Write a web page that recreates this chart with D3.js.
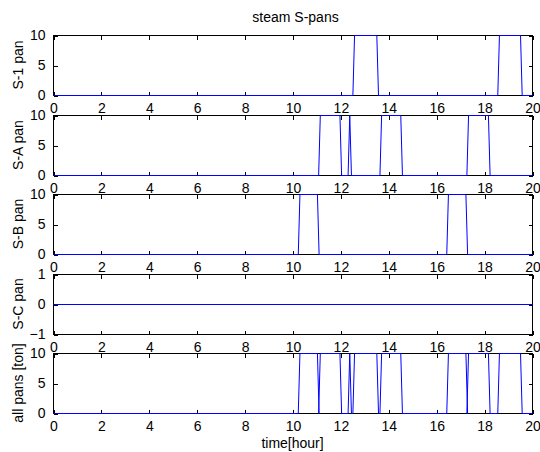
<!DOCTYPE html>
<html>
<head>
<meta charset="utf-8">
<script src="https://cdn.jsdelivr.net/npm/d3@7"></script>
<style>
    body { margin: 0; background: #fff; }
    svg { display: block; font-family: "Liberation Sans", Arial, sans-serif; }
</style>
</head>
<body>
<svg id="chart" width="540" height="452"></svg>
<script>
    // time range and tick labels (hours)
    var hourRange = [0, 20];
    var hourTicks = [0, 2, 4, 6, 8, 10, 12, 14, 16, 18, 20];
    var panLabels = ["S-1 pan", "S-A pan", "S-B pan", "S-C pan", "all pans  [ton]"];
    // switching times (pan fills 10 ton while on)
    var s1On = [12.5, 18.55], s1Off = [13.5, 19.5];
    var saOn = [11.07, 12.3, 13.63, 17.26], saOff = [11.96, 12.37, 14.5, 18.16];
    var sbOn = [10.22, 16.42], sbOff = [11.02, 17.22];
    var scOn = [], scOff = [];
    var panLoad = 10;
    var rampTime = 0.07;
    var yDomains = [[0, 10], [0, 10], [0, 10], [-1, 1], [0, 10]];
    var yTicks = [[0, 5, 10], [0, 5, 10], [0, 5, 10], [-1, 0, 1], [0, 5, 10]];

    function toIntervals(on, off) {
        return on.map(function (t, i) { return [t, off[i]]; });
    }
    function toPoints(intervals, level) {
        var pts = [[hourRange[0], 0]];
        intervals.forEach(function (iv) {
            pts.push([iv[0], 0], [iv[0] + rampTime, level], [iv[1], level], [iv[1] + rampTime, 0]);
        });
        pts.push([hourRange[1], 0]);
        return pts;
    }

    var pans = [toIntervals(s1On, s1Off), toIntervals(saOn, saOff), toIntervals(sbOn, sbOff), toIntervals(scOn, scOff)];
    var allPans = d3.merge(pans).sort(function (a, b) { return a[0] - b[0]; });
    var series = pans.map(function (p) { return toPoints(p, panLoad); });
    series.push(toPoints(allPans, panLoad));

    var left = 53, right = 532, firstTop = 35, step = 79.5, panelHeight = 60;
    var tickLen = 4;
    var fontSize = "14px";

    var svg = d3.select("#chart");
    var x = d3.scaleLinear().domain(hourRange).range([left, right]);

    svg.append("text")
        .attr("x", (left + right) / 2 + 3)
        .attr("y", 22)
        .attr("text-anchor", "middle")
        .style("font-size", fontSize)
        .text("steam S-pans");

    series.forEach(function (pts, k) {
        var top = Math.round(firstTop + step * k), bottom = top + panelHeight;
        var y = d3.scaleLinear().domain(yDomains[k]).range([bottom, top]);
        var g = svg.append("g").attr("transform", "translate(0.5,0.5)");

        g.append("rect")
            .attr("x", left).attr("y", top)
            .attr("width", right - left).attr("height", bottom - top)
            .attr("fill", "#fff").attr("stroke", "#000")
            .attr("shape-rendering", "crispEdges");

        // inward ticks on all four sides, like a boxed matlab axes
        var bottomAxis = d3.axisBottom(x).tickValues(hourTicks).tickSizeInner(-tickLen).tickSizeOuter(0).tickPadding(8);
        var topAxis = d3.axisTop(x).tickValues(hourTicks).tickSizeInner(-tickLen).tickSizeOuter(0).tickFormat("");
        var leftAxis = d3.axisLeft(y).tickValues(yTicks[k]).tickSizeInner(-tickLen).tickSizeOuter(0).tickPadding(8).tickFormat(d3.format("d"));
        var rightAxis = d3.axisRight(y).tickValues(yTicks[k]).tickSizeInner(-tickLen).tickSizeOuter(0).tickFormat("");

        [[bottomAxis, 0, bottom], [topAxis, 0, top], [leftAxis, left, 0], [rightAxis, right, 0]].forEach(function (a) {
            var ax = g.append("g")
                .attr("transform", "translate(" + a[1] + "," + a[2] + ")")
                .call(a[0]);
            ax.select(".domain").remove();
            ax.selectAll("line").attr("stroke", "#000").attr("shape-rendering", "crispEdges");
            ax.selectAll("text").attr("fill", "#000").style("font-size", fontSize).style("font-family", "'Liberation Sans', Arial, sans-serif");
        });

        g.append("path")
            .datum(pts)
            .attr("fill", "none")
            .attr("stroke", "#0000ff")
            .attr("stroke-width", 1)
            .attr("d", d3.line().x(function (d) { return x(d[0]); }).y(function (d) { return y(d[1]); }));

        svg.append("text")
            .attr("transform", "translate(23," + (top + bottom) / 2 + ") rotate(-90)")
            .attr("text-anchor", "middle")
            .style("font-size", fontSize)
            .text(panLabels[k]);
    });

    svg.append("text")
        .attr("x", (left + right) / 2)
        .attr("y", 448)
        .attr("text-anchor", "middle")
        .style("font-size", fontSize)
        .text("time[hour]");
</script>
</body>
</html>
